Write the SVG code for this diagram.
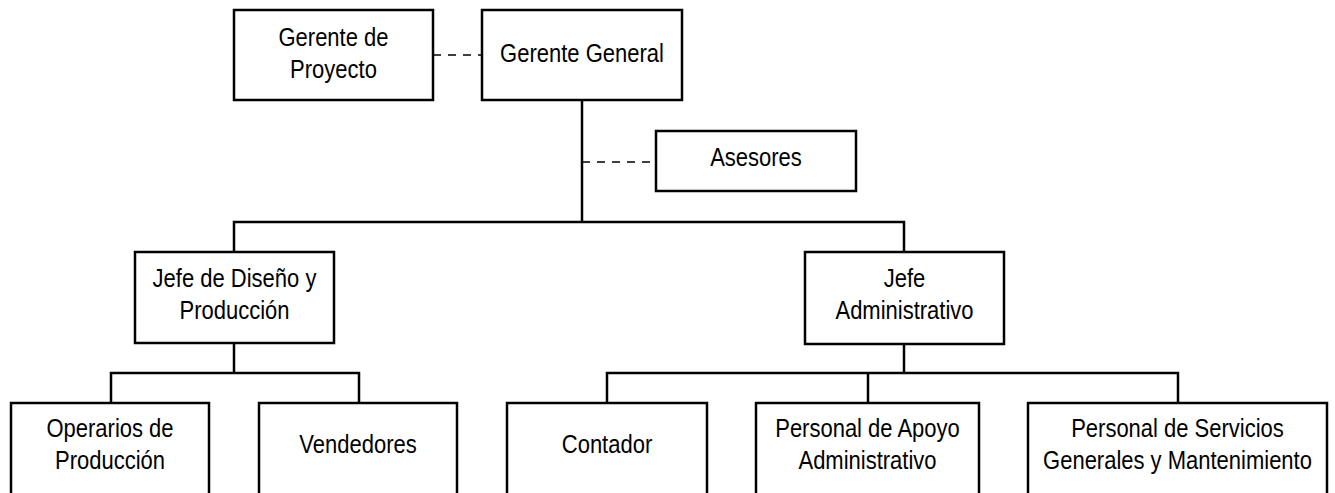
<svg xmlns="http://www.w3.org/2000/svg" width="1335" height="493" viewBox="0 0 1335 493">
  <style>
    .box { fill: #ffffff; stroke: #000000; stroke-width: 2.5; }
    .link { fill: none; stroke: #000000; stroke-width: 2.5; }
    .dash { fill: none; stroke: #000000; stroke-width: 1.5; stroke-dasharray: 8 7; }
    .t { font-family: "Liberation Sans", Arial, sans-serif; font-size: 25px; fill: #000000; text-anchor: middle; }
  </style>
  <rect width="1335" height="493" fill="#ffffff"/>

  <!-- reporting lines -->
  <g id="connectors">
    <path class="link" d="M582 100 V222"/>
    <path class="link" d="M234 252 V222 H904 V252"/>
    <path class="link" d="M234 343 V373"/>
    <path class="link" d="M111 403 V373 H359 V403"/>
    <path class="link" d="M904 344 V373"/>
    <path class="link" d="M607 403 V373 H1178 V403"/>
    <path class="link" d="M868 373 V403"/>
    <path class="dash" d="M433 55 H482"/>
    <path class="dash" d="M582 162 H656"/>
  </g>

  <g id="gerente-proyecto">
    <rect class="box" x="234" y="10" width="199" height="90"/>
    <text class="t" transform="translate(333.5 0) scale(0.88 1)" x="0" y="46">Gerente de</text>
    <text class="t" transform="translate(333.5 0) scale(0.88 1)" x="0" y="78">Proyecto</text>
  </g>

  <g id="gerente-general">
    <rect class="box" x="482" y="10" width="200" height="90"/>
    <text class="t" transform="translate(582 0) scale(0.88 1)" x="0" y="62">Gerente General</text>
  </g>

  <g id="asesores">
    <rect class="box" x="656" y="131" width="200" height="60"/>
    <text class="t" transform="translate(756 0) scale(0.88 1)" x="0" y="166">Asesores</text>
  </g>

  <g id="jefe-diseno">
    <rect class="box" x="135" y="252" width="199" height="91"/>
    <text class="t" transform="translate(234.5 0) scale(0.88 1)" x="0" y="287">Jefe de Diseño y</text>
    <text class="t" transform="translate(234.5 0) scale(0.88 1)" x="0" y="319">Producción</text>
  </g>

  <g id="jefe-administrativo">
    <rect class="box" x="805" y="252" width="199" height="92"/>
    <text class="t" transform="translate(904.5 0) scale(0.88 1)" x="0" y="287">Jefe</text>
    <text class="t" transform="translate(904.5 0) scale(0.88 1)" x="0" y="319">Administrativo</text>
  </g>

  <g id="operarios">
    <rect class="box" x="11" y="403" width="198" height="93"/>
    <text class="t" transform="translate(110 0) scale(0.88 1)" x="0" y="437">Operarios de</text>
    <text class="t" transform="translate(110 0) scale(0.88 1)" x="0" y="469">Producción</text>
  </g>

  <g id="vendedores">
    <rect class="box" x="259" y="403" width="198" height="93"/>
    <text class="t" transform="translate(358 0) scale(0.88 1)" x="0" y="453">Vendedores</text>
  </g>

  <g id="contador">
    <rect class="box" x="507" y="403" width="200" height="93"/>
    <text class="t" transform="translate(607 0) scale(0.88 1)" x="0" y="453">Contador</text>
  </g>

  <g id="apoyo-administrativo">
    <rect class="box" x="756" y="403" width="223" height="93"/>
    <text class="t" transform="translate(867.5 0) scale(0.88 1)" x="0" y="437">Personal de Apoyo</text>
    <text class="t" transform="translate(867.5 0) scale(0.88 1)" x="0" y="469">Administrativo</text>
  </g>

  <g id="servicios-generales">
    <rect class="box" x="1028" y="403" width="299" height="93"/>
    <text class="t" transform="translate(1177.5 0) scale(0.88 1)" x="0" y="437">Personal de Servicios</text>
    <text class="t" transform="translate(1177.5 0) scale(0.88 1)" x="0" y="469">Generales y Mantenimiento</text>
  </g>
</svg>
